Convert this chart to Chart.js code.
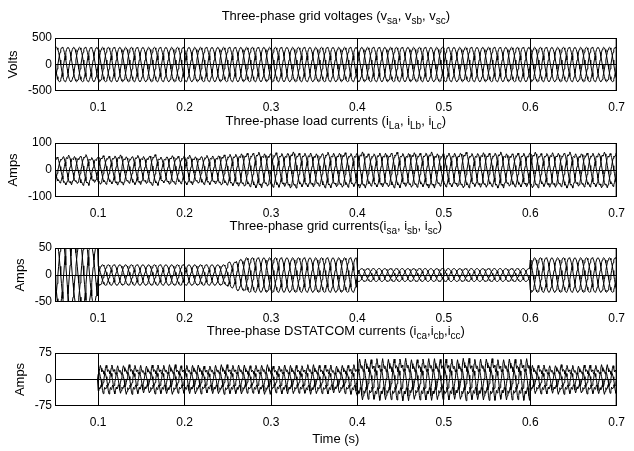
<!DOCTYPE html>
<html>
<head>
<meta charset="utf-8">
<script src="https://cdn.jsdelivr.net/npm/chart.js@4.4.0/dist/chart.umd.min.js"></script>
<style>
    html, body { margin: 0; padding: 0; background: #fff; }
    #wrap { position: relative; width: 634px; height: 451px; }
    #wrap canvas { position: absolute; left: 0; top: 0; }
</style>
</head>
<body>
<div id="wrap">
    <canvas id="chartVolt" width="634" height="451"></canvas>
    <canvas id="chartLoad" width="634" height="451"></canvas>
    <canvas id="chartGrid" width="634" height="451"></canvas>
    <canvas id="chartComp" width="634" height="451"></canvas>
</div>
<script>
// --- Datos ---
const timeStart = 0.05;
const timeEnd   = 0.7;
const timeTicks      = [0.1, 0.2, 0.3, 0.4, 0.5, 0.6, 0.7];
const timeTickLabels = ['0.1', '0.2', '0.3', '0.4', '0.5', '0.6', '0.7'];

// 24 muestras por ciclo de 50 Hz, una envolvente por semiciclo (65 semiciclos de 0.05 a 0.7 s)
const samplesPerCycle = 24;
const cycleTime = 0.02;
const phaseOffsets = [12, 4, 20];   // a, b (-120°), c (+120°)

const sineShape = [0, 0.259, 0.5, 0.707, 0.866, 0.966, 1, 0.966, 0.866, 0.707, 0.5, 0.259,
                   0, -0.259, -0.5, -0.707, -0.866, -0.966, -1, -0.966, -0.866, -0.707, -0.5, -0.259];
const loadShape = [0, 0.22, 0.48, 0.7, 0.84, 0.78, 0.88, 1.0, 0.9, 0.76, 0.52, 0.26,
                   0, -0.22, -0.48, -0.7, -0.84, -0.78, -0.88, -1.0, -0.9, -0.76, -0.52, -0.26];
const compShape = [0.05, 0.4, 0.78, 1.0, 0.8, 0.55, 0.68, 0.6, 0.38, 0.5, 0.42, 0.2,
                   -0.05, -0.4, -0.78, -1.0, -0.8, -0.55, -0.68, -0.6, -0.38, -0.5, -0.42, -0.2];

const voltPeak = [325, 325, 325, 325, 325, 325, 325, 325, 325, 325, 325, 325, 325,
                  325, 325, 325, 325, 325, 325, 325, 325, 325, 325, 325, 325, 325,
                  325, 325, 325, 325, 325, 325, 325, 325, 325, 325, 325, 325, 325,
                  325, 325, 325, 325, 325, 325, 325, 325, 325, 325, 325, 325, 325,
                  325, 325, 325, 325, 325, 325, 325, 325, 325, 325, 325, 325, 325];
const loadPeak = [48, 55, 50, 57, 46, 53, 51, 56, 49, 54, 50, 57, 48,
                  53, 51, 55, 49, 54, 52, 56, 58, 60, 62, 66, 60, 64,
                  61, 67, 62, 63, 60, 66, 62, 64, 61, 67, 60, 63, 62,
                  66, 61, 64, 62, 67, 60, 63, 62, 66, 61, 64, 62, 67,
                  60, 63, 62, 66, 61, 64, 62, 67, 60, 63, 62, 66, 61];
const gridPeak = [62, 70, 58, 66, 55, 19, 19, 19, 19, 19, 19, 19, 19,
                  19, 19, 19, 19, 19, 19, 19, 24, 29, 32, 32, 32, 32,
                  32, 32, 32, 32, 32, 32, 32, 32, 32, 12, 12, 12, 12,
                  12, 12, 12, 12, 12, 12, 12, 12, 12, 12, 12, 12, 12,
                  12, 12, 12, 32, 32, 32, 32, 32, 32, 32, 32, 32, 32];
const compPeak = [0, 0, 0, 0, 0, 40, 41, 39, 42, 40, 38, 41, 40,
                  42, 39, 40, 41, 38, 40, 42, 40, 41, 39, 40, 42, 38,
                  41, 40, 39, 42, 40, 41, 38, 40, 42, 58, 56, 59, 57,
                  58, 60, 56, 58, 59, 57, 58, 56, 60, 57, 58, 59, 56,
                  58, 57, 59, 40, 41, 39, 42, 40, 38, 41, 40, 42, 39];

const volTicks  = [-500, 0, 500];
const loadTicks = [-100, 0, 100];
const gridTicks = [-50, 0, 50];
const compTicks = [-75, 0, 75];

const FONT = '"Liberation Sans", Arial, Helvetica, sans-serif';

// Construye las tres fases a partir de la forma de onda y la envolvente por semiciclo
function _threePhase(shape, peaks) {
    const half = samplesPerCycle / 2;
    const total = peaks.length * half;
    const fases = [[], [], []];
    for (let n = 0; n <= total; n++) {
        const x = timeStart + n * cycleTime / samplesPerCycle;
        const amp = peaks[Math.min(Math.floor(n / half), peaks.length - 1)];
        phaseOffsets.forEach((off, k) => {
            fases[k].push({ x, y: shape[(n + off) % samplesPerCycle] * amp });
        });
    }
    return fases;
}

const panelText = {
    id: 'panelText',
    afterDraw(chart, args, opts) {
        const { ctx, chartArea: a } = chart;
        ctx.save();
        ctx.strokeStyle = '#000';
        ctx.lineWidth = 1;
        ctx.strokeRect(a.left + 0.5, a.top + 0.5, a.right - a.left - 1, a.bottom - a.top - 1);

        ctx.fillStyle = '#000';
        ctx.textAlign = 'left';
        ctx.textBaseline = 'alphabetic';
        let w = 0;
        opts.title.forEach(p => {
            ctx.font = (p.sub ? 10 : 13) + 'px ' + FONT;
            w += ctx.measureText(p.t).width;
        });
        let x = (a.left + a.right) / 2 - w / 2;
        const y = a.top - 18;
        opts.title.forEach(p => {
            ctx.font = (p.sub ? 10 : 13) + 'px ' + FONT;
            ctx.fillText(p.t, x, y + (p.sub ? 4 : 0));
            x += ctx.measureText(p.t).width;
        });

        ctx.font = '13px ' + FONT;
        ctx.textAlign = 'center';
        ctx.textBaseline = 'middle';
        ctx.translate(opts.yLabelX, (a.top + a.bottom) / 2);
        ctx.rotate(-Math.PI / 2);
        ctx.fillText(opts.yLabel, 0, 0);
        ctx.setTransform(1, 0, 0, 1, 0, 0);

        if (opts.xLabel) {
            ctx.fillText(opts.xLabel, (a.left + a.right) / 2, 439);
        }
        ctx.restore();
    }
};

function _crearPanel(canvasId, shape, peaks, yTicks, top, bottom, text) {
    const fases = _threePhase(shape, peaks);
    return new Chart(document.getElementById(canvasId), {
        type: 'line',
        data: {
            datasets: fases.map(d => ({
                data: d,
                borderColor: '#000',
                borderWidth: 1,
                pointRadius: 0,
                tension: 0,
                fill: false
            }))
        },
        options: {
            responsive: false,
            animation: false,
            events: [],
            layout: { padding: { top, right: 11, left: 0, bottom: 0 } },
            plugins: { legend: { display: false }, tooltip: { enabled: false }, panelText: text },
            scales: {
                x: {
                    type: 'linear',
                    min: timeStart,
                    max: timeEnd,
                    afterFit: s => { s.height = 451 - bottom; },
                    afterBuildTicks: s => { s.ticks = timeTicks.map(v => ({ value: v })); },
                    border: { display: false },
                    grid: { color: '#000', lineWidth: 1, drawTicks: false },
                    ticks: {
                        padding: 9,
                        color: '#000',
                        font: { family: FONT, size: 12 },
                        maxRotation: 0,
                        callback: (v, i) => timeTickLabels[i]
                    }
                },
                y: {
                    min: yTicks[0],
                    max: yTicks[yTicks.length - 1],
                    afterFit: s => { s.width = 55; },
                    afterBuildTicks: s => { s.ticks = yTicks.map(v => ({ value: v })); },
                    border: { display: false },
                    grid: {
                        drawTicks: false,
                        lineWidth: 1,
                        color: c => (c.tick && c.tick.value === 0 ? '#000' : 'rgba(0,0,0,0)')
                    },
                    ticks: {
                        padding: 3,
                        color: '#000',
                        font: { family: FONT, size: 12 },
                        callback: v => String(v)
                    }
                }
            }
        },
        plugins: [panelText]
    });
}

_crearPanel('chartVolt', sineShape, voltPeak, volTicks, 38, 91, {
    title: [{ t: 'Three-phase grid voltages (v' }, { t: 'sa', sub: true }, { t: ', v' },
            { t: 'sb', sub: true }, { t: ', v' }, { t: 'sc', sub: true }, { t: ')' }],
    yLabel: 'Volts', yLabelX: 13
});
_crearPanel('chartLoad', loadShape, loadPeak, loadTicks, 143, 197, {
    title: [{ t: 'Three-phase load currents (i' }, { t: 'La', sub: true }, { t: ', i' },
            { t: 'Lb', sub: true }, { t: ', i' }, { t: 'Lc', sub: true }, { t: ')' }],
    yLabel: 'Amps', yLabelX: 13
});
_crearPanel('chartGrid', sineShape, gridPeak, gridTicks, 248, 302, {
    title: [{ t: 'Three-phase grid currents(i' }, { t: 'sa', sub: true }, { t: ', i' },
            { t: 'sb', sub: true }, { t: ', i' }, { t: 'sc', sub: true }, { t: ')' }],
    yLabel: 'Amps', yLabelX: 20
});
_crearPanel('chartComp', compShape, compPeak, compTicks, 353, 406, {
    title: [{ t: 'Three-phase DSTATCOM currents (i' }, { t: 'ca', sub: true }, { t: ',i' },
            { t: 'cb', sub: true }, { t: ',i' }, { t: 'cc', sub: true }, { t: ')' }],
    yLabel: 'Amps', yLabelX: 20, xLabel: 'Time (s)'
});
</script>
</body>
</html>
